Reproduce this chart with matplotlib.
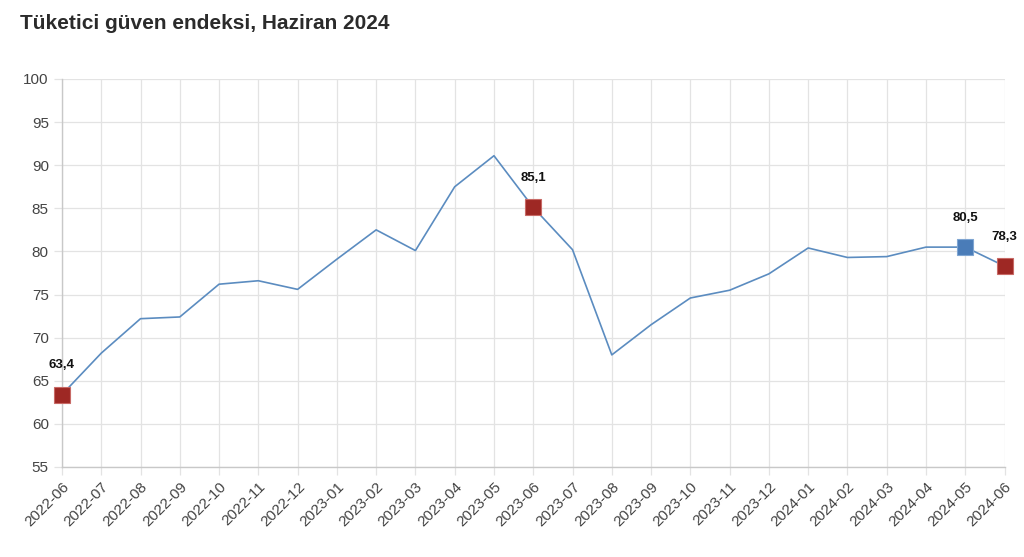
import matplotlib.pyplot as plt

months = ['2022-06', '2022-07', '2022-08', '2022-09', '2022-10', '2022-11', '2022-12',
          '2023-01', '2023-02', '2023-03', '2023-04', '2023-05', '2023-06', '2023-07',
          '2023-08', '2023-09', '2023-10', '2023-11', '2023-12', '2024-01', '2024-02',
          '2024-03', '2024-04', '2024-05', '2024-06']
index_values = [63.4, 68.2, 72.2, 72.4, 76.2, 76.6, 75.6, 79.1, 82.5, 80.1, 87.5, 91.1, 85.1,
                80.2, 68.0, 71.5, 74.6, 75.5, 77.4, 80.4, 79.3, 79.4, 80.5, 80.5, 78.3]

# highlighted points
red_points = ['2022-06', '2023-06', '2024-06']
blue_points = ['2024-05']

plt.rcParams['font.family'] = ['Liberation Sans', 'DejaVu Sans']

fig = plt.figure(figsize=(10.24, 5.57), dpi=100)
ax = fig.add_axes([0.0605, 0.1616, 0.9205, 0.6966])

x = list(range(len(months)))
ax.plot(x, index_values, color='#5b8cc0', lw=1.2, zorder=3)

def mark(names, color, edge):
    for m in names:
        i = months.index(m)
        v = index_values[i]
        ax.plot(i, v, marker='s', markersize=11, color=color, mec=edge, mew=0.8,
                zorder=4, clip_on=False)
        ax.annotate(f'{v:.1f}'.replace('.', ','), (i, v), xytext=(0, 21),
                    textcoords='offset points', ha='center', va='center',
                    fontsize=9.5, fontweight='bold', color='#111111')

mark(red_points, '#9e2824', '#c86a66')
mark(blue_points, '#4a7cb8', '#7fa5d2')

ax.set_xlim(0, len(months) - 1)
ax.set_ylim(55, 100)
ax.set_yticks(range(55, 101, 5))
ax.set_xticks(x)
ax.set_xticklabels(months, rotation=45, ha='right', rotation_mode='anchor')

ax.grid(True, color='#e3e3e3', lw=0.9)
ax.set_axisbelow(True)
for s in ['top', 'right']:
    ax.spines[s].set_visible(False)
for s in ['left', 'bottom']:
    ax.spines[s].set_color('#c8c8c8')
    ax.spines[s].set_linewidth(1.0)
ax.tick_params(axis='both', colors='#e3e3e3', labelcolor='#444444', labelsize=11,
               length=6, width=0.9)
ax.tick_params(axis='x', pad=3)

fig.text(0.0195, 0.975, 'Tüketici güven endeksi, Haziran 2024', fontsize=15,
         fontweight='bold', color='#2b2b2b', ha='left', va='top')

fig.savefig('out.png', dpi=100)
